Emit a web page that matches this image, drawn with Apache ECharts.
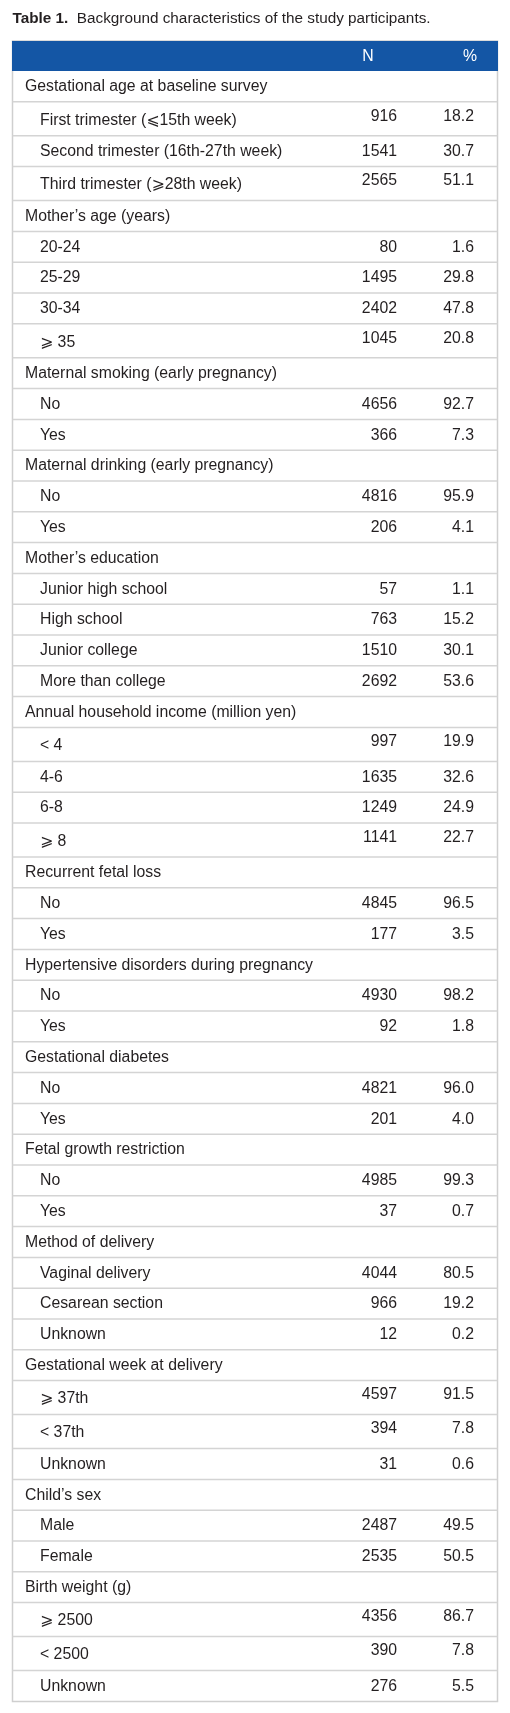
<!DOCTYPE html>
<html>
<head>
<meta charset="utf-8">
<script src="https://cdn.jsdelivr.net/npm/echarts@6/dist/echarts.min.js"></script>
<style>
  html, body { margin: 0; padding: 0; background: #fff; }
  #chart { width: 510px; height: 1713px; }
</style>
</head>
<body>
<div id="chart"></div>
<script>
// ---- data ----
const titleBold = 'Table 1.';
const titleText = 'Background characteristics of the study participants.';
const headerLabels = ['', 'N', '%'];
const rowLabels = [
  'Gestational age at baseline survey', 'First trimester (⩽15th week)', 'Second trimester (16th-27th week)', 'Third trimester (⩾28th week)',
  'Mother’s age (years)', '20-24', '25-29', '30-34', '⩾ 35',
  'Maternal smoking (early pregnancy)', 'No', 'Yes',
  'Maternal drinking (early pregnancy)', 'No', 'Yes',
  'Mother’s education', 'Junior high school', 'High school', 'Junior college', 'More than college',
  'Annual household income (million yen)', '< 4', '4-6', '6-8', '⩾ 8',
  'Recurrent fetal loss', 'No', 'Yes',
  'Hypertensive disorders during pregnancy', 'No', 'Yes',
  'Gestational diabetes', 'No', 'Yes',
  'Fetal growth restriction', 'No', 'Yes',
  'Method of delivery', 'Vaginal delivery', 'Cesarean section', 'Unknown',
  'Gestational week at delivery', '⩾ 37th', '< 37th', 'Unknown',
  'Child’s sex', 'Male', 'Female',
  'Birth weight (g)', '⩾ 2500', '< 2500', 'Unknown'
];
const rowN = [
  null, 916, 1541, 2565,
  null, 80, 1495, 2402, 1045,
  null, 4656, 366,
  null, 4816, 206,
  null, 57, 763, 1510, 2692,
  null, 997, 1635, 1249, 1141,
  null, 4845, 177,
  null, 4930, 92,
  null, 4821, 201,
  null, 4985, 37,
  null, 4044, 966, 12,
  null, 4597, 394, 31,
  null, 2487, 2535,
  null, 4356, 390, 276
];
const rowPct = [
  null, 18.2, 30.7, 51.1,
  null, 1.6, 29.8, 47.8, 20.8,
  null, 92.7, 7.3,
  null, 95.9, 4.1,
  null, 1.1, 15.2, 30.1, 53.6,
  null, 19.9, 32.6, 24.9, 22.7,
  null, 96.5, 3.5,
  null, 98.2, 1.8,
  null, 96.0, 4.0,
  null, 99.3, 0.7,
  null, 80.5, 19.2, 0.2,
  null, 91.5, 7.8, 0.6,
  null, 49.5, 50.5,
  null, 86.7, 7.8, 5.5
];

// ---- layout (derived) ----
const FONT = '"Liberation Sans", Arial, Helvetica, "DejaVu Sans", sans-serif';
const TEXT = '#231f20';
const FS = 15.8;
const TW = 485;           // table width in axis units
const HEADER_H = 30;
const NORMAL_H = 30.8;
const SYMBOL_H = 34;
const isSymbol = s => /[⩽⩾<]/.test(s);
const heights = [HEADER_H].concat(rowLabels.map(l => isSymbol(l) ? SYMBOL_H : NORMAL_H));
const tops = [];
let acc = 0;
heights.forEach(h => { tops.push(acc); acc += h; });
const TOTAL = acc;

const COL_CAT = 12.5, COL_SUB = 27.5, COL_N = 384.5, COL_PCT = 461.5;
const HEAD_N = 355.5, HEAD_PCT = 457.5;

function txt(x, y, text, align, extra) {
  return Object.assign({
    type: 'text', x: x, y: y,
    style: { text: text, fill: TEXT, fontFamily: FONT, fontSize: FS, align: align, verticalAlign: 'middle' }
  }, extra || {});
}

function renderItem(params, api) {
  const i = api.value(0);
  const top = tops[i], bot = tops[i] + heights[i];
  const a = api.coord([0, top]);
  const b = api.coord([TW, bot]);
  const h = b[1] - a[1];
  const children = [];
  if (i === 0) {
    children.push({ type: 'rect', shape: { x: a[0] - 0.5, y: a[1], width: b[0] - a[0] + 1, height: h }, style: { fill: '#1456a5' } });
    const cy = a[1] + h / 2 + 0.5;
    children.push(txt(api.coord([HEAD_N, 0])[0], cy, headerLabels[1], 'center', {}));
    children.push(txt(api.coord([HEAD_PCT, 0])[0], cy, headerLabels[2], 'center', {}));
    children.forEach(c => { if (c.type === 'text') c.style.fill = '#ffffff'; });
    return { type: 'group', children: children };
  }
  const r = i - 1;
  const label = rowLabels[r];
  const sym = isSymbol(label);
  const cat = rowN[r] === null;
  const cy = a[1] + h / 2 + (sym ? 1.5 : 0.5);
  const ny = a[1] + (sym ? 14.5 : 15.9);
  children.push(txt(api.coord([cat ? COL_CAT : COL_SUB, 0])[0], cy, label, 'left'));
  if (!cat) {
    children.push(txt(api.coord([COL_N, 0])[0], ny, String(rowN[r]), 'right'));
    children.push(txt(api.coord([COL_PCT, 0])[0], ny, rowPct[r].toFixed(1), 'right'));
  }
  if (r < rowLabels.length - 1) {
    children.push({ type: 'line', shape: { x1: a[0], y1: b[1], x2: b[0], y2: b[1] }, style: { stroke: '#d4d4d4', lineWidth: 1.5 } });
  }
  return { type: 'group', children: children };
}

const chart = echarts.init(document.getElementById('chart'), null, { renderer: 'canvas' });
chart.setOption({
  animation: false,
  backgroundColor: '#ffffff',
  title: {
    text: '{b|' + titleBold + '}  ' + titleText,
    left: 12.5, top: 11, padding: 0,
    textStyle: {
      fontFamily: FONT, fontSize: 15.3, fontWeight: 'normal', color: TEXT,
      rich: { b: { fontFamily: FONT, fontSize: 15.3, fontWeight: 'bold', color: TEXT } }
    }
  },
  grid: {
    left: 12.5, top: 41, width: TW, height: TOTAL,
    show: true, borderColor: '#cfcfcf', borderWidth: 1.5, backgroundColor: '#ffffff'
  },
  xAxis: { type: 'value', min: 0, max: TW, show: false },
  yAxis: { type: 'value', min: 0, max: TOTAL, inverse: true, show: false },
  series: [{
    type: 'custom',
    renderItem: renderItem,
    clip: false,
    data: heights.map((_, i) => [i, tops[i]]),
    encode: { x: -1, y: 1 },
    silent: true
  }]
});
</script>
</body>
</html>
